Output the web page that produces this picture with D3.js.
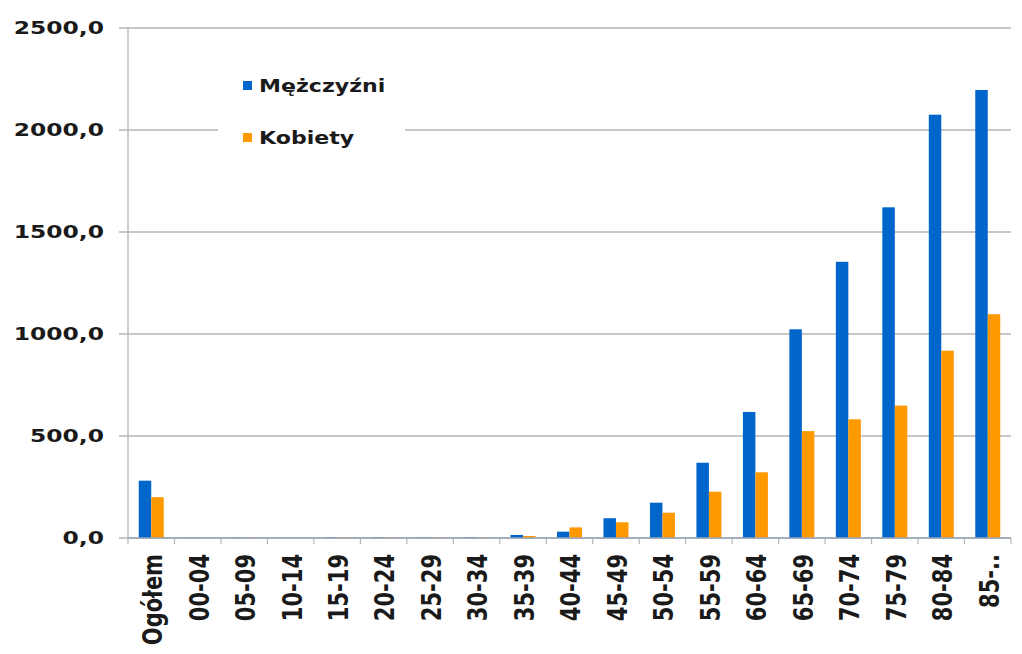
<!DOCTYPE html>
<html>
<head>
<meta charset="utf-8">
<script src="https://cdn.jsdelivr.net/npm/d3@7"></script>
<style>
  body { margin: 0; background: #fff; }
  svg { display: block; }
  text { font-family: "DejaVu Sans", Verdana, sans-serif; font-weight: bold; fill: #1a1a1a; }
</style>
</head>
<body>
<svg id="chart" width="1022" height="654"></svg>
<script>
// age groups on the x axis
const categories = ["Ogółem", "00-04", "05-09", "10-14", "15-19", "20-24", "25-29", "30-34", "35-39",
  "40-44", "45-49", "50-54", "55-59", "60-64", "65-69", "70-74", "75-79", "80-84", "85-.."];
const seriesNames = ["Mężczyźni", "Kobiety"];
// values
const men = [281, 2, 2, 0, 3, 3, 3, 3, 15, 31, 97, 173, 369, 618, 1023, 1354, 1621, 2075, 2196];
const women = [200, 0, 1, 0, 3, 2, 3, 2, 10, 52, 77, 124, 227, 322, 524, 582, 649, 918, 1097];
const yTicks = [0, 500, 1000, 1500, 2000, 2500];
const colors = ["#0066cc", "#ff9900"];

const margin = { top: 28, left: 128, right: 11, bottom: 116 };
const width = 1022 - margin.left - margin.right;
const height = 654 - margin.top - margin.bottom;
const stretch = 1.3; // the original picture looks stretched sideways

const svg = d3.select("#chart");
const g = svg.append("g").attr("transform", `translate(${margin.left},${margin.top})`);

const x0 = d3.scaleBand().domain(categories).range([0, width]);
const x1 = d3.scaleBand().domain(seriesNames).range([0, x0.bandwidth()]).paddingInner(0).paddingOuter(0.86);
const y = d3.scaleLinear().domain([0, 2500]).range([height, 0]);

// gridlines + y labels
g.selectAll(".grid").data(yTicks).enter().append("line")
  .attr("x1", -9).attr("x2", width)
  .attr("y1", d => y(d)).attr("y2", d => y(d))
  .attr("stroke", "#b4b4b4").attr("stroke-width", 1.3);

g.selectAll(".ylab").data(yTicks).enter().append("text")
  .attr("transform", d => `translate(-24,${y(d)}) scale(${stretch},1)`)
  .attr("text-anchor", "end")
  .attr("dy", "0.36em")
  .style("font-size", "18px")
  .text(d => d3.format(".1f")(d).replace(".", ","));

// y axis line
g.append("line").attr("x1", 0).attr("x2", 0).attr("y1", 0).attr("y2", height)
  .attr("stroke", "#b4b4b4").attr("stroke-width", 1.3);

// bars
const rows = categories.map((c, i) => ({ cat: c, vals: [men[i], women[i]] }));
const groups = g.selectAll(".grp").data(rows).enter().append("g")
  .attr("transform", d => `translate(${x0(d.cat)},0)`);
groups.selectAll("rect").data(d => d.vals.map((v, k) => ({ name: seriesNames[k], v: v, k: k })))
  .enter().append("rect")
  .attr("x", d => x1(d.name))
  .attr("width", x1.bandwidth())
  .attr("y", d => y(d.v))
  .attr("height", d => height - y(d.v))
  .attr("fill", d => colors[d.k]);

// x axis line and ticks at category boundaries
g.append("line").attr("x1", 0).attr("x2", width).attr("y1", height).attr("y2", height)
  .attr("stroke", "#9aa6b8").attr("stroke-width", 1.3);
const bounds = categories.map(c => x0(c)).concat([width]);
g.selectAll(".xtick").data(bounds).enter().append("line")
  .attr("x1", d => d).attr("x2", d => d)
  .attr("y1", height).attr("y2", height + 6)
  .attr("stroke", "#b4b4b4").attr("stroke-width", 1.2);

// rotated x labels
g.selectAll(".xlab").data(categories).enter().append("text")
  .attr("transform", d => `translate(${x0(d) + x0.bandwidth() / 2 + 1},${height + 16}) scale(${stretch},1) rotate(-90)`)
  .attr("text-anchor", "end")
  .attr("dy", "0.36em")
  .style("font-size", "21px")
  .text(d => d);

// legend with white box over the gridline
const legend = svg.append("g");
legend.append("rect").attr("x", 218).attr("y", 55).attr("width", 187).attr("height", 110).attr("fill", "#fff");
seriesNames.forEach((name, i) => {
  const ly = 86 + i * 52;
  legend.append("rect").attr("x", 243).attr("y", ly - 5).attr("width", 9).attr("height", 9).attr("fill", colors[i]);
  legend.append("text")
    .attr("transform", `translate(259,${ly}) scale(${stretch},1)`)
    .attr("dy", "0.36em")
    .style("font-size", "17px")
    .text(name);
});
</script>
</body>
</html>
